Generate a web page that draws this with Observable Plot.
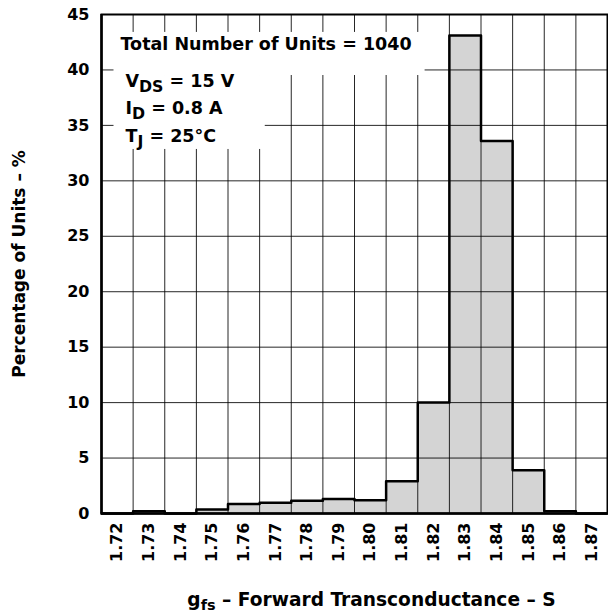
<!DOCTYPE html>
<html><head><meta charset="utf-8">
<script src="https://cdn.jsdelivr.net/npm/d3@7"></script>
<script src="https://cdn.jsdelivr.net/npm/@observablehq/plot@0.6"></script>
<style>
html,body{margin:0;padding:0;background:#fff;}
#chart svg{display:block;}
#chart svg text{font-family:"DejaVu Sans",sans-serif;font-weight:bold;}
</style></head><body><div id="chart"></div>
<script>
// ---- data ----
const binCenters = [1.72, 1.73, 1.74, 1.75, 1.76, 1.77, 1.78, 1.79, 1.80, 1.81, 1.82, 1.83, 1.84, 1.85, 1.86, 1.87];
const percentages = [0, 0.2, 0, 0.37, 0.85, 0.97, 1.15, 1.3, 1.2, 2.9, 10.0, 43.1, 33.6, 3.9, 0.2, 0];
const xTickLabels = ["1.72", "1.73", "1.74", "1.75", "1.76", "1.77", "1.78", "1.79", "1.80", "1.81", "1.82", "1.83", "1.84", "1.85", "1.86", "1.87"];
const yTicks = [0, 5, 10, 15, 20, 25, 30, 35, 40, 45];
const binWidth = 0.01;
const legendTitle = "Total Number of Units = 1040";
const legendLines = ["V_{DS} = 15 V", "I_{D} = 0.8 A", "T_{J} = 25°C"];
const xTitle = "g_{fs} – Forward Transconductance – S";
const yTitle = "Percentage of Units – %";

// ---- derived tables ----
const bins = binCenters.map((c, i) => ({c, pct: percentages[i]}));
const edges = binCenters.map(c => c - binWidth / 2).concat(binCenters[binCenters.length - 1] + binWidth / 2);
const outline = bins.map(b => ({x: b.c - binWidth / 2, y: b.pct}))
  .concat({x: edges[edges.length - 1], y: percentages[percentages.length - 1]});

const plot = Plot.plot({
  width: 608, height: 615,
  marginLeft: 101, marginRight: 1, marginTop: 14, marginBottom: 102,
  style: {background: "#fff", fontFamily: "DejaVu Sans", fontWeight: "bold", color: "#000"},
  x: {domain: [edges[0], edges[edges.length - 1]]},
  y: {domain: [yTicks[0], yTicks[yTicks.length - 1]]},
  marks: [
    Plot.rectY(bins, {x1: d => d.c - binWidth / 2, x2: d => d.c + binWidth / 2, y: "pct", fill: "#d4d4d4", insetLeft: 0, insetRight: 0}),
    Plot.ruleX(edges.slice(1, -1), {stroke: "#000", strokeWidth: 1, strokeOpacity: 0.85}),
    Plot.ruleY(yTicks.slice(1, -1), {stroke: "#000", strokeWidth: 1, strokeOpacity: 0.85}),
    Plot.text([legendTitle], {frameAnchor: "top-left", textAnchor: "start", lineAnchor: "top", dx: 19, dy: 23, fontSize: 17.5, fill: "#000"}),
    Plot.text([legendLines.join("\n")], {frameAnchor: "top-left", textAnchor: "start", lineAnchor: "top", dx: 24, dy: 53, lineHeight: 1.57, fontSize: 17.5, fill: "#000"}),
    Plot.line(outline, {x: "x", y: "y", curve: "step-after", stroke: "#000", strokeWidth: 2.5}),
    Plot.frame({stroke: "#000", strokeWidth: 2}),
    Plot.ruleX([edges[0]], {stroke: "#000", strokeWidth: 2.5}),
    Plot.ruleY([yTicks[0]], {stroke: "#000", strokeWidth: 2.5}),
    Plot.axisY({ticks: yTicks, tickSize: 0, tickPadding: 12, fontSize: 16, label: null}),
    Plot.axisX({ticks: binCenters, tickFormat: d => xTickLabels[binCenters.indexOf(d)], tickRotate: -90, tickSize: 0, tickPadding: 9, fontSize: 16, label: null}),
    Plot.text([yTitle], {frameAnchor: "left", textAnchor: "middle", dx: -82, rotate: -90, fontSize: 17, fill: "#000"}),
    Plot.text([xTitle], {frameAnchor: "bottom", textAnchor: "middle", dx: 17, dy: 92, fontSize: 18.6, fill: "#000"})
  ]
});
document.getElementById("chart").appendChild(plot);

// ---- subscripts: replace "_{..}" with lowered, smaller tspans ----
const NS = "http://www.w3.org/2000/svg";
function applySubs(node, scale, shift) {
  const s = node.textContent;
  if (!s.includes("_{")) return;
  while (node.firstChild) node.removeChild(node.firstChild);
  const re = /_\{([^}]*)\}/g;
  let last = 0, m, lowered = false;
  const add = (txt, sub) => {
    const t = document.createElementNS(NS, "tspan");
    t.textContent = txt;
    if (sub) { t.setAttribute("dy", shift); t.setAttribute("font-size", scale + "em"); lowered = true; }
    else if (lowered) { t.setAttribute("dy", -shift); lowered = false; }
    node.appendChild(t);
  };
  while ((m = re.exec(s))) {
    if (m.index > last) add(s.slice(last, m.index), false);
    add(m[1], true);
    last = re.lastIndex;
  }
  add(last < s.length ? s.slice(last) : "\u200b", false);
}
d3.select(plot).selectAll("text, tspan").each(function () {
  if (this.children.length === 0) {
    const isTitle = this.textContent.startsWith("g_{");
    applySubs(this, isTitle ? 0.78 : 0.9, isTitle ? 4 : 5);
  }
});

// ---- white box behind the legend text (as in the reference) ----
const texts = Array.from(plot.querySelectorAll("text"));
const tTitle = texts.find(t => t.textContent.includes("Total Number"));
const tLines = texts.find(t => t.textContent.includes("DS"));
if (tTitle && tLines) {
  const sv = plot.getBoundingClientRect();
  const box = el => { const r = el.getBoundingClientRect(); return {x: r.left - sv.left, y: r.top - sv.top, width: r.width, height: r.height}; };
  const tb = box(tTitle), lb = box(tLines);
  const mask = document.createElementNS(NS, "g");
  const x0 = tb.x - 7, y0 = tb.y - 2;
  const r1 = {x: x0, y: y0, w: tb.width + 20, h: lb.y + 4 - y0};
  const r2 = {x: x0, y: lb.y + 4, w: (lb.x + lb.width + 30) - x0, h: lb.height - 6};
  for (const r of [r1, r2]) {
    const rect = document.createElementNS(NS, "rect");
    rect.setAttribute("x", r.x); rect.setAttribute("y", r.y);
    rect.setAttribute("width", Math.max(0, r.w)); rect.setAttribute("height", Math.max(0, r.h));
    rect.setAttribute("fill", "#fff");
    mask.appendChild(rect);
  }
  const g = tTitle.closest("g");
  g.parentNode.insertBefore(mask, g);
}
</script></body></html>
